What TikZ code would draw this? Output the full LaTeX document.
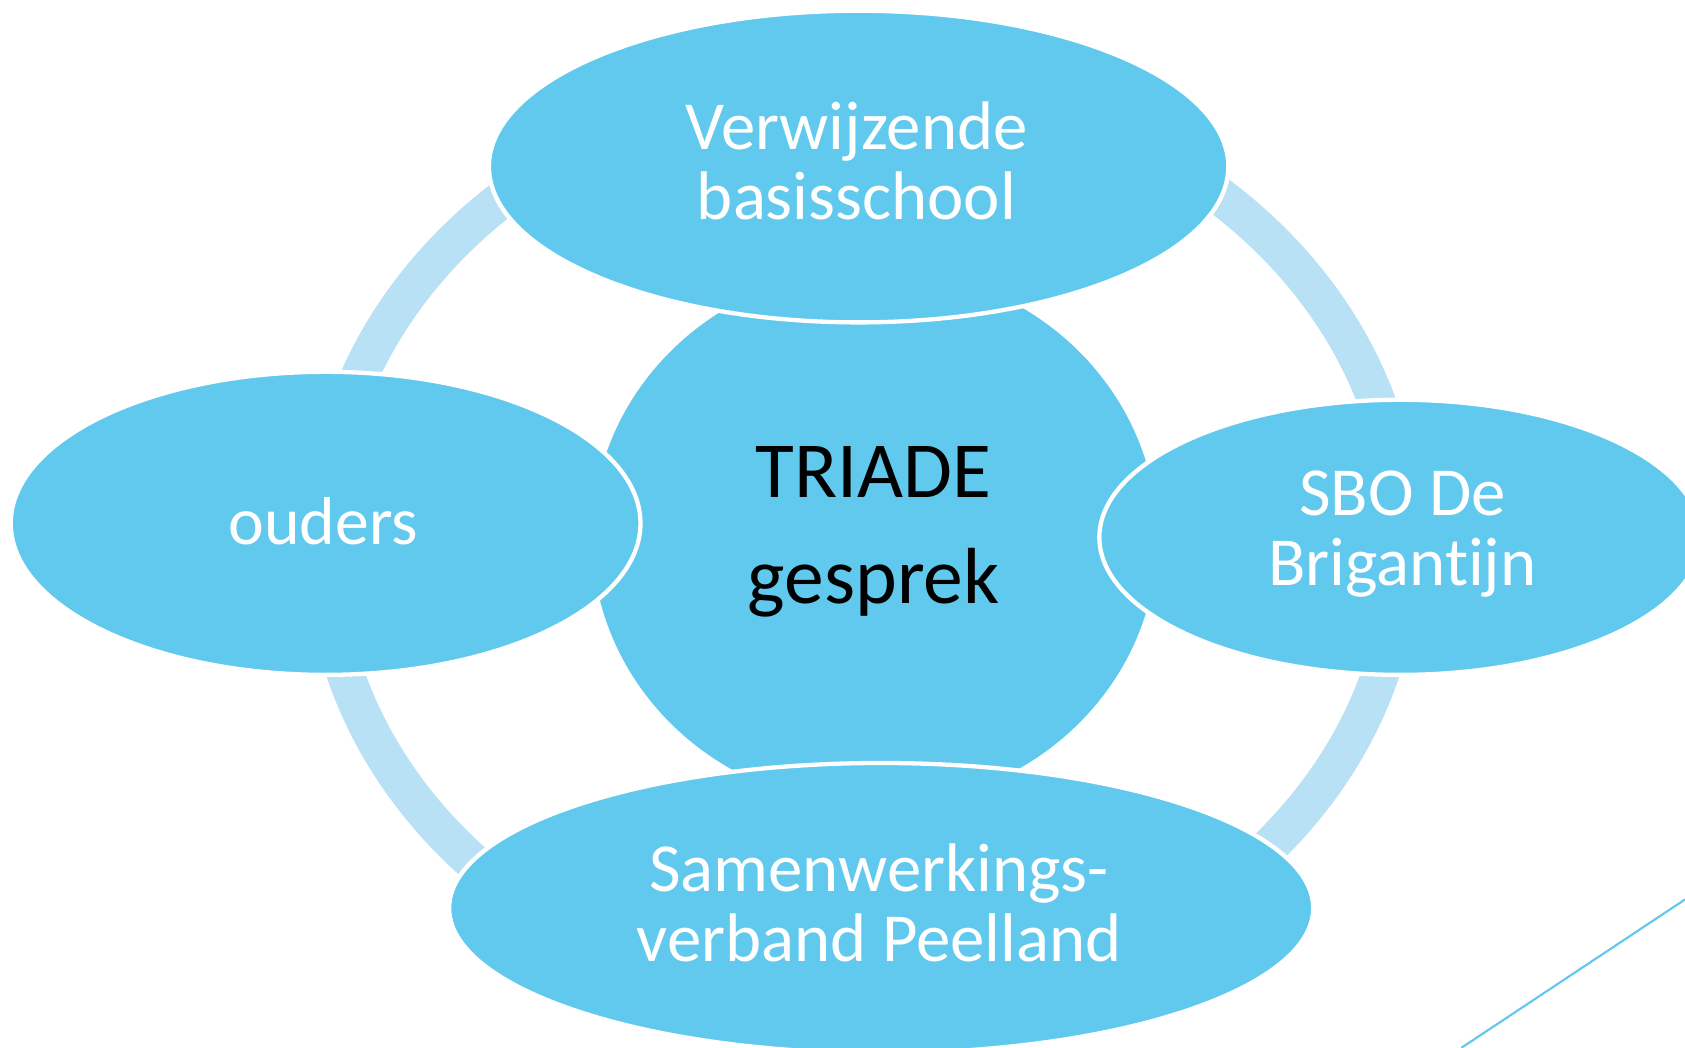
\documentclass[tikz,border=0pt]{standalone}
\usepackage{fontspec}
\setmainfont{Carlito}[RawFeature={-liga}]
\usetikzlibrary{shapes.geometric}
\definecolor{bubble}{HTML}{61C9EE}
\definecolor{ringc}{HTML}{B9E1F5}
\begin{document}
\begin{tikzpicture}[x=1pt,y=-1pt,
  bub/.style={ellipse, fill=bubble, draw=white, line width=4pt, inner sep=0pt},
  lbl/.style={text=white, align=center, font=\fontsize{64}{65}\selectfont},
  ringline/.style={draw=ringc, line width=35pt}]
\useasboundingbox (0,0) rectangle (1568,975);
\fill[white] (0,0) rectangle (1568,975);
% ring
\coordinate (rc) at (803,505);
\draw[ringline] (rc) ellipse [x radius=502pt, y radius=430pt];
% centre
\node[bub, minimum width=530pt, minimum height=505pt] (mid) at (814,500) {};
% outer bubbles
\node[bub, minimum width=586pt, minimum height=282pt] (ouders) at (303,487) {};
\node[bub, minimum width=688pt, minimum height=290pt] (school) at (799,155) {};
\node[bub, minimum width=560pt, minimum height=256pt] (sbo) at (1303,500) {};
\node[bub, minimum width=804pt, minimum height=270pt] (swv) at (820,845) {};
% texts
\node[lbl] (t-school) at (797,150) {Verwijzende\\basisschool};
\node[lbl, font=\fontsize{63}{65}\selectfont] (t-ouders) at (301,485) {ouders};
\node[lbl] (t-sbo) at (1305,497) {SBO De\\Brigantijn};
\node[lbl] (t-swv) at (818,840) {Samenwerkings-\\verband Peelland};
\node[align=center, text=black, font=\fontsize{74}{98}\selectfont] (t-mid) at (813,495) {TRIADE\\gesprek};
% decorative line
\coordinate (l1) at (1360,975);
\coordinate (l2) at (1568,837);
\draw[bubble, line width=2pt] (l1) -- (l2);
\end{tikzpicture}
\end{document}
